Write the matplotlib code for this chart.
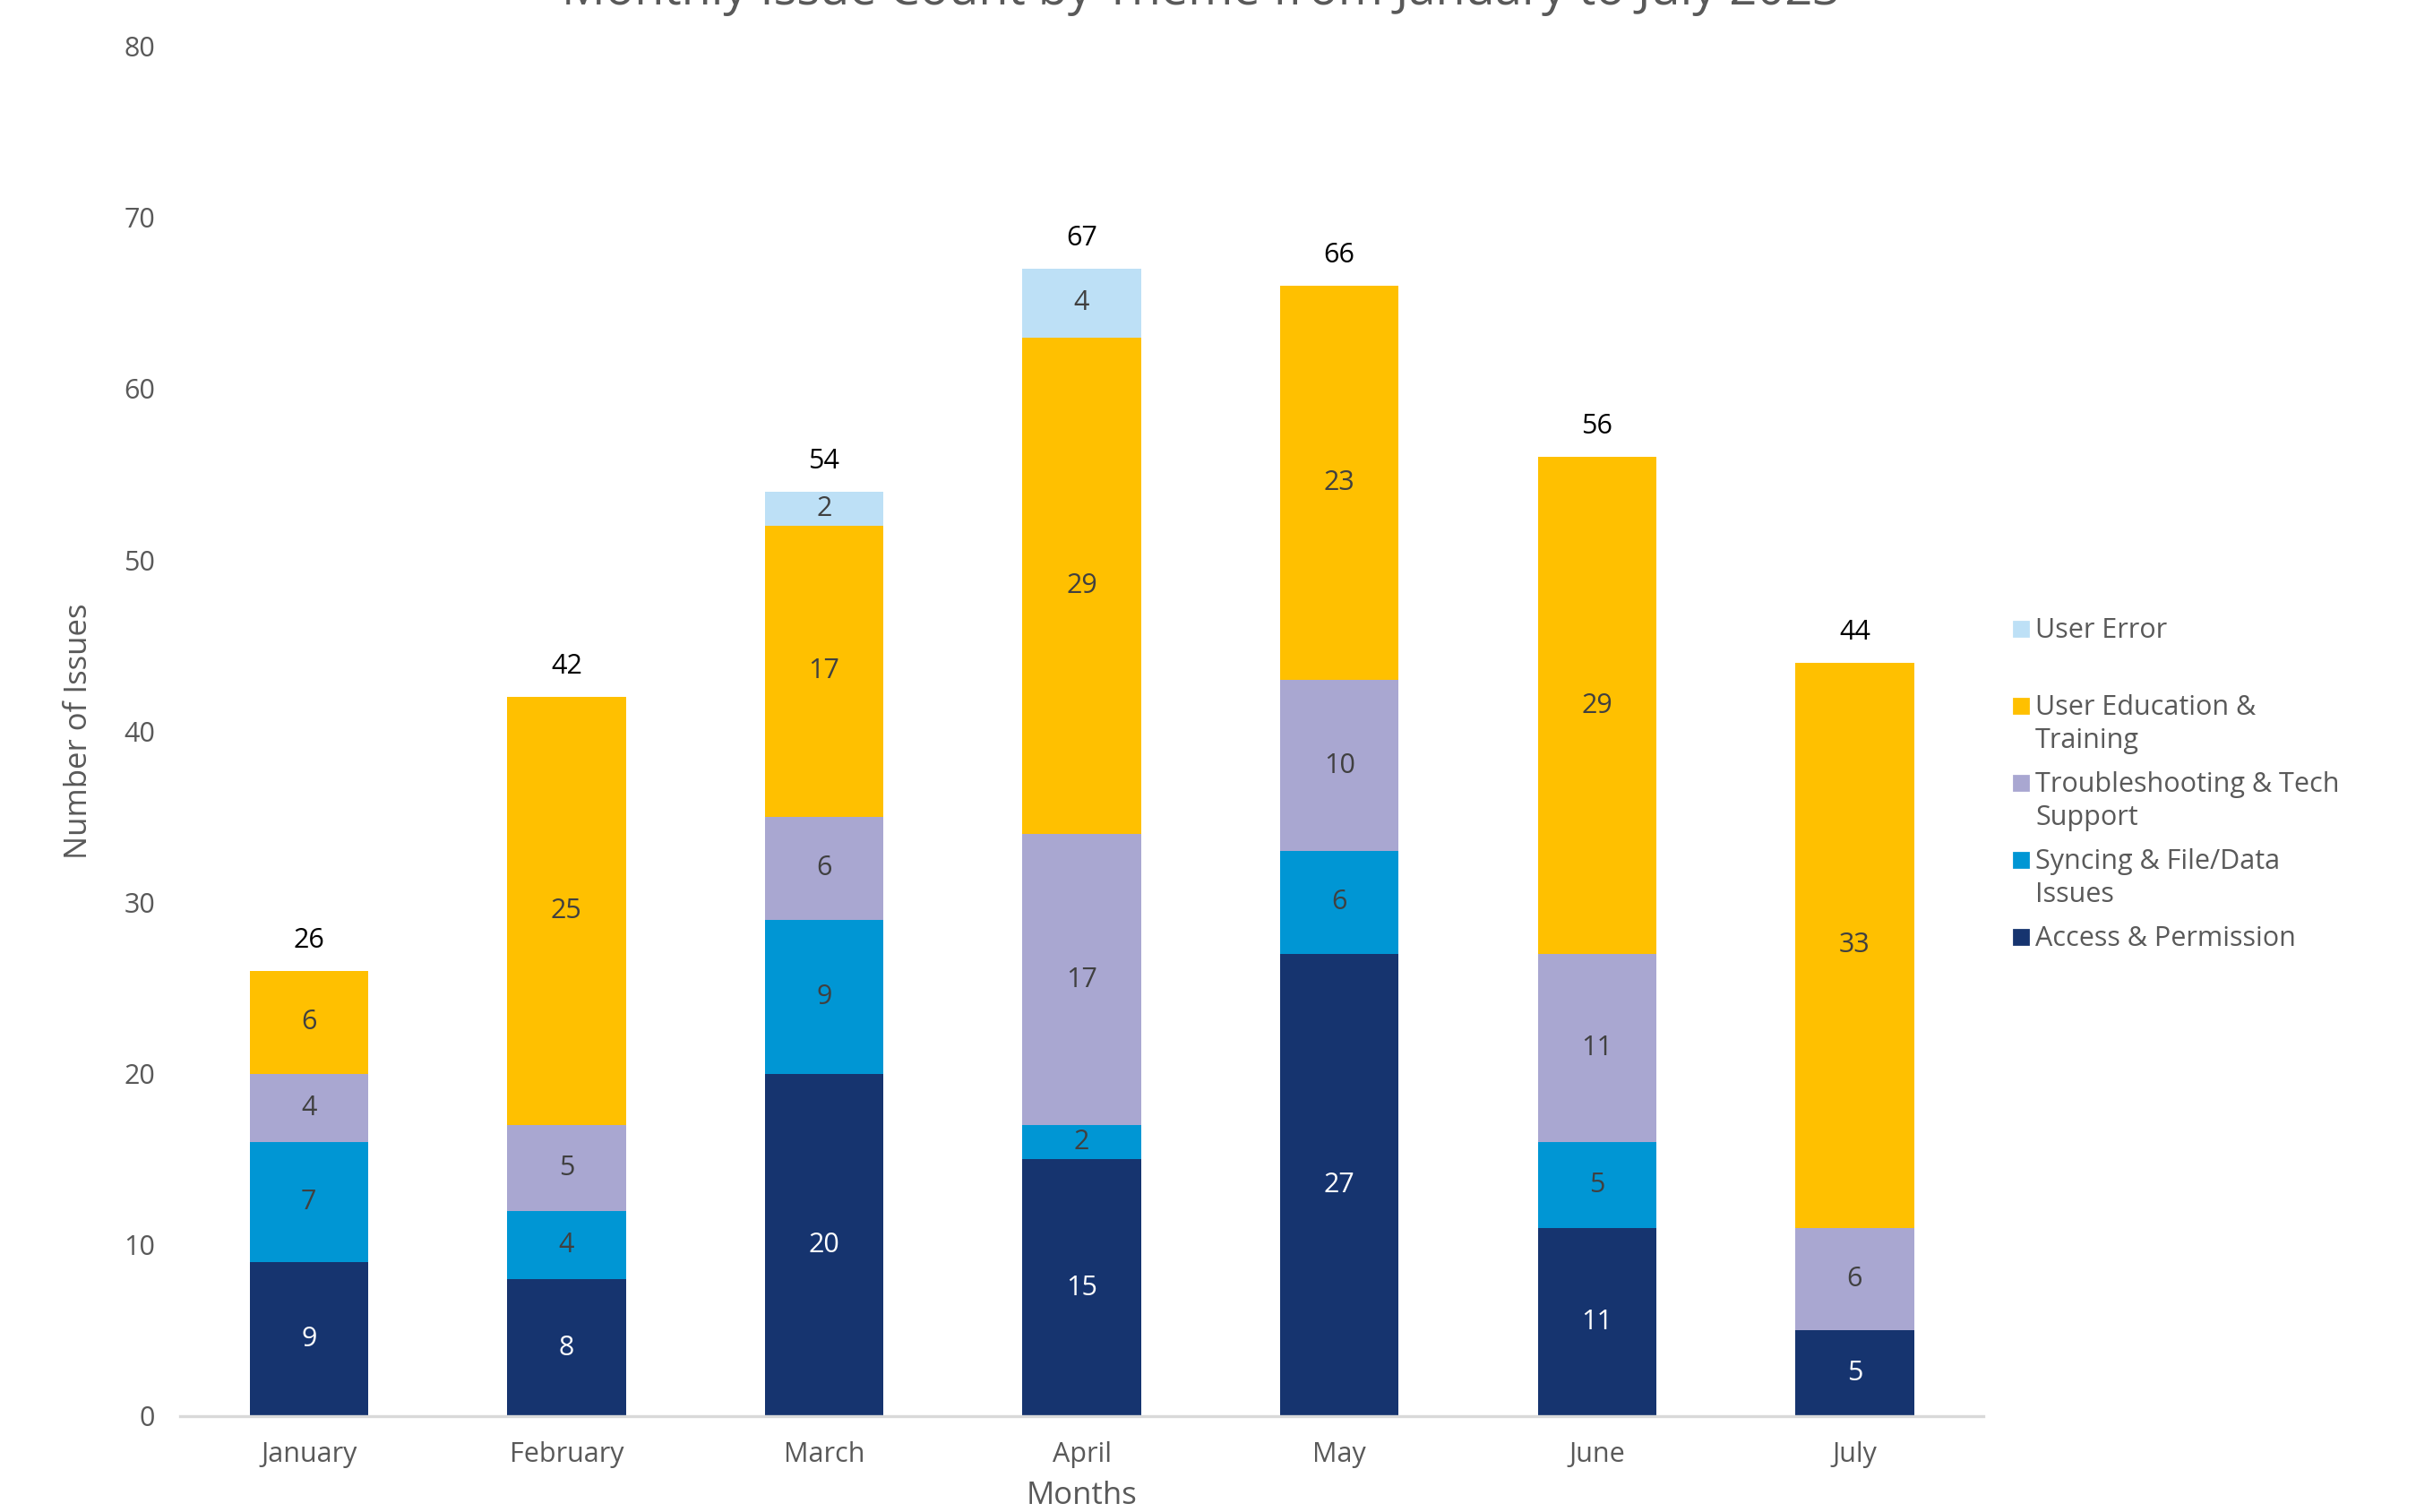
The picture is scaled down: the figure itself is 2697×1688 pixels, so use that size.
import matplotlib
matplotlib.use('Agg')
import matplotlib.pyplot as plt
import numpy as np

plt.rcParams['font.family'] = ['Open Sans', 'DejaVu Sans']

months = ['January', 'February', 'March', 'April', 'May', 'June', 'July']

# series, bottom to top
access = [9, 8, 20, 15, 27, 11, 5]
syncing = [7, 4, 9, 2, 6, 5, 0]
troubleshooting = [4, 5, 6, 17, 10, 11, 6]
education = [6, 25, 17, 29, 23, 29, 33]
user_error = [0, 0, 2, 4, 0, 0, 0]

series_names = ['Access & Permission', 'Syncing & File/Data\nIssues',
                'Troubleshooting & Tech\nSupport', 'User Education &\nTraining',
                'User Error']
series_vals = [access, syncing, troubleshooting, education, user_error]
colors = ['#16346f', '#0096d4', '#a9a7d1', '#ffc000', '#bde0f6']
label_colors = ['white', '#404040', '#404040', '#404040', '#404040']

txt_gray = '#595959'
fs = 11

fig = plt.figure(figsize=(13.485, 8.44), dpi=200)
ax = fig.add_axes([0.0745, 0.0634, 0.7465, 0.906])

x = np.arange(len(months))
bottom = np.zeros(len(months))
for vals, col, lc in zip(series_vals, colors, label_colors):
    vals = np.array(vals)
    ax.bar(x, vals, 0.46, bottom=bottom, color=col, zorder=2)
    for xi, v, b in zip(x, vals, bottom):
        if v > 0:
            ax.text(xi, b + v / 2, str(v), ha='center', va='center',
                    fontsize=fs, color=lc)
    bottom = bottom + vals

totals = bottom
for xi, t in zip(x, totals):
    ax.text(xi, t + 1.0, str(int(t)), ha='center', va='bottom',
            fontsize=fs, color='black')

ax.set_xlim(-0.5, 6.5)
ax.set_ylim(0, 80)
ax.set_yticks(range(0, 81, 10))
ax.set_xticks(x)
ax.set_xticklabels(months)
ax.tick_params(axis='both', length=0, labelsize=fs, colors=txt_gray)
ax.tick_params(axis='y', pad=10)
ax.tick_params(axis='x', pad=10)
for s in ['top', 'right', 'left']:
    ax.spines[s].set_visible(False)
ax.spines['bottom'].set_color('#d9d9d9')
ax.spines['bottom'].set_linewidth(1.2)

ax.set_xlabel('Months', fontsize=12.5, color=txt_gray, labelpad=5)
ax.set_ylabel('Number of Issues', fontsize=12.5, color=txt_gray, labelpad=12)

fig.text(0.497, 1 - 5 / 1688, 'Monthly Issue Count by Theme from January to July 2023',
         ha='center', va='baseline', fontsize=19.5, color=txt_gray)

# legend, Excel style: marker next to first line, top entry first
leg_y0 = 1 - 702 / 1688
leg_step = 86 / 1688
for i, idx in enumerate(range(len(series_names) - 1, -1, -1)):
    yy = leg_y0 - i * leg_step
    fig.patches.append(plt.Rectangle((2248 / 2697, yy - 8 / 1688), 16 / 2697, 16 / 1688,
                                     transform=fig.transFigure, color=colors[idx]))
    fig.text(2272 / 2697, yy + 13 / 1688, series_names[idx], ha='left', va='top',
             fontsize=fs, color=txt_gray, linespacing=1.3)

plt.savefig('out.png', dpi=200)
